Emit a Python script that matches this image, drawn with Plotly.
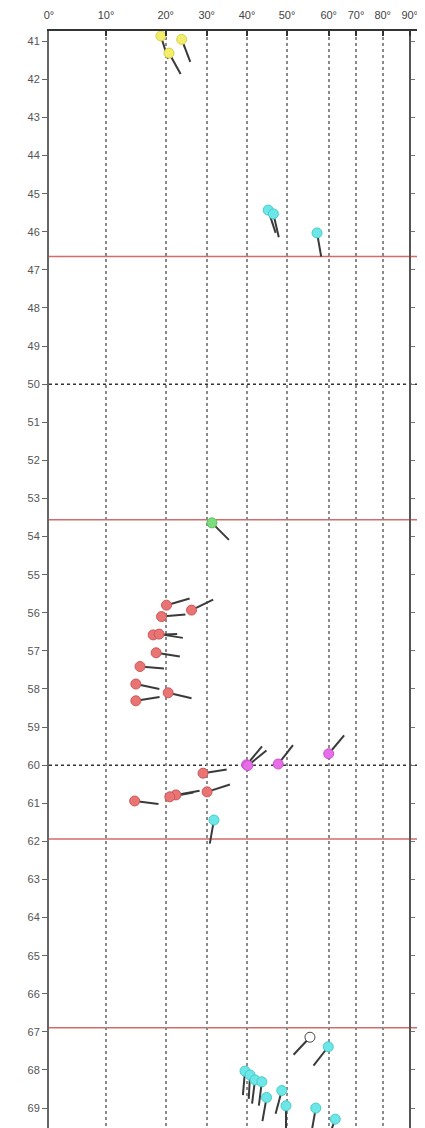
import numpy as np
import plotly.graph_objects as go

# ---- axis scale (dip degrees -> horizontal position, nonlinear scale) ----
DIP_TICKS = [0, 10, 20, 30, 40, 50, 60, 70, 80, 90]
DIP_TICK_LABELS = ["0°", "10°", "20°", "30°", "40°", "50°", "60°", "70°", "80°", "90°"]
DIP_POS = [0, 57, 116.7, 157.7, 198, 238, 279.7, 307, 333.7, 360.7]

DEPTH_TICKS = list(range(41, 70))

# ---- data: dip (deg), depth (m), azimuth (deg) ----
yellow_dip = [19.2, 20.8, 23.9]
yellow_depth = [40.86, 41.31, 40.95]
yellow_az = [163, 151, 159]

cyan_top_dip = [45.3, 46.6, 57.2]
cyan_top_depth = [45.43, 45.53, 46.03]
cyan_top_az = [162, 167, 170]

green_dip = [31.3]
green_depth = [53.64]
green_az = [135]

red_dip = [20.2, 26.3, 19.3, 17.9, 18.9, 18.4, 15.7, 15.0, 20.6, 15.0, 29.1, 30.1, 22.5, 21.0, 14.8]
red_depth = [55.80, 55.93, 56.10, 56.58, 56.56, 57.05, 57.41, 57.87, 58.10, 58.31, 60.21, 60.70, 60.78, 60.83, 60.94]
red_az = [74, 64, 85, 88, 99, 99, 95, 102, 103, 81, 81, 72, 80, 80, 97]

magenta_dip = [39.9, 40.2, 47.8, 60.0]
magenta_depth = [59.99, 60.01, 59.97, 59.70]
magenta_az = [40, 51, 38, 40]

cyan_mid_dip = [31.8]
cyan_mid_depth = [61.44]
cyan_mid_az = [190]

hollow_dip = [55.5]
hollow_depth = [67.14]
hollow_az = [223]

cyan_bot_dip = [59.9, 39.5, 40.75, 42.0, 43.7, 44.9, 48.7, 49.75, 56.9, 62.4]
cyan_bot_depth = [67.39, 68.03, 68.13, 68.26, 68.31, 68.72, 68.54, 68.94, 69.0, 69.29]
cyan_bot_az = [218, 185, 183, 187, 187, 190, 195, 180, 190, 200]

HLINE_DOTTED = [50, 60]
HLINE_RED = [46.65, 53.56, 61.94, 66.89]

# ---- layout constants (page body has an 8px margin) ----
PAGE_OFF = 8
W, H = 425 - PAGE_OFF, 1128 - PAGE_OFF
ML, MT = 49 - PAGE_OFF, 31 - PAGE_OFF
PLOT_W = W - ML
PX_PER_M = 38.1
TOP_DEPTH = 40.73
BOT_DEPTH = TOP_DEPTH + (H - MT) / PX_PER_M
TAIL_PX = 24


def xpos(d):
    return np.interp(np.asarray(d, float), DIP_TICKS, DIP_POS)


def tails(dip, depth, az):
    xs, ys = [], []
    x0 = xpos(dip)
    for x, y, a in zip(x0, depth, az):
        r = np.radians(a)
        xs += [x, x + TAIL_PX * np.sin(r), None]
        ys += [y, y - TAIL_PX * np.cos(r) / PX_PER_M, None]
    return xs, ys


fig = go.Figure()

groups = [
    (yellow_dip, yellow_depth, yellow_az, "#f2ee6c", "#d8d050"),
    (cyan_top_dip, cyan_top_depth, cyan_top_az, "#6ce6e6", "#48cccc"),
    (green_dip, green_depth, green_az, "#7edc7e", "#5cc05c"),
    (red_dip, red_depth, red_az, "#e87474", "#cc5858"),
    (magenta_dip, magenta_depth, magenta_az, "#e66ee6", "#cc50cc"),
    (cyan_mid_dip, cyan_mid_depth, cyan_mid_az, "#6ce6e6", "#48cccc"),
    (cyan_bot_dip, cyan_bot_depth, cyan_bot_az, "#6ce6e6", "#48cccc"),
    (hollow_dip, hollow_depth, hollow_az, "#ffffff", "#444444"),
]

for dip, depth, az, fill, edge in groups:
    tx, ty = tails(dip, depth, az)
    fig.add_trace(go.Scatter(x=tx, y=ty, mode="lines",
                             line=dict(color="#3a3a3a", width=2),
                             hoverinfo="skip", showlegend=False))
for dip, depth, az, fill, edge in groups:
    fig.add_trace(go.Scatter(x=xpos(dip), y=depth, mode="markers",
                             marker=dict(size=10, color=fill,
                                         line=dict(color=edge, width=1)),
                             showlegend=False))

# invisible trace for right axis
fig.add_trace(go.Scatter(x=[None], y=[None], yaxis="y2", showlegend=False))

shapes = []
for d in HLINE_DOTTED:
    shapes.append(dict(type="line", xref="x", yref="y", x0=0, x1=PLOT_W, y0=d, y1=d,
                       line=dict(color="#333333", width=1.5, dash="dot"), layer="below"))
for d in HLINE_RED:
    shapes.append(dict(type="line", xref="x", yref="y", x0=0, x1=PLOT_W, y0=d, y1=d,
                       line=dict(color="#d46a6a", width=1.5), layer="below"))

fig.update_layout(
    width=W, height=H,
    margin=dict(l=ML, r=0, t=MT, b=0, pad=0, autoexpand=False),
    paper_bgcolor="white", plot_bgcolor="white",
    font=dict(family="Liberation Sans, Arial, sans-serif", size=11, color="#555555"),
    shapes=shapes,
    xaxis=dict(range=[0, PLOT_W], side="top", tickmode="array",
               tickvals=DIP_POS, ticktext=DIP_TICK_LABELS,
               showgrid=True, gridcolor="#8a8a8a", griddash="dot", gridwidth=1.5,
               zeroline=False, showline=True, linecolor="#333333", linewidth=2,
               ticks="inside", ticklen=5, tickcolor="#333333", tickwidth=1.5,
               ticklabelstandoff=6,
               tickfont=dict(size=11, color="#444444")),
    yaxis=dict(range=[BOT_DEPTH, TOP_DEPTH], tickmode="array", tickvals=DEPTH_TICKS,
               showgrid=False, zeroline=False, showline=True, linecolor="#666666",
               linewidth=2, ticks="outside", ticklen=5, tickcolor="#666666",
               tickfont=dict(size=11, color="#555555")),
    yaxis2=dict(range=[BOT_DEPTH, TOP_DEPTH], overlaying="y", anchor="free",
                position=DIP_POS[-1] / PLOT_W, side="right", tickmode="array",
                tickvals=DEPTH_TICKS, showticklabels=False, showgrid=False,
                zeroline=False, showline=True, linecolor="#555555", linewidth=2,
                ticks="outside", ticklen=4, tickcolor="#777777"),
)

fig.write_html("out.html")
